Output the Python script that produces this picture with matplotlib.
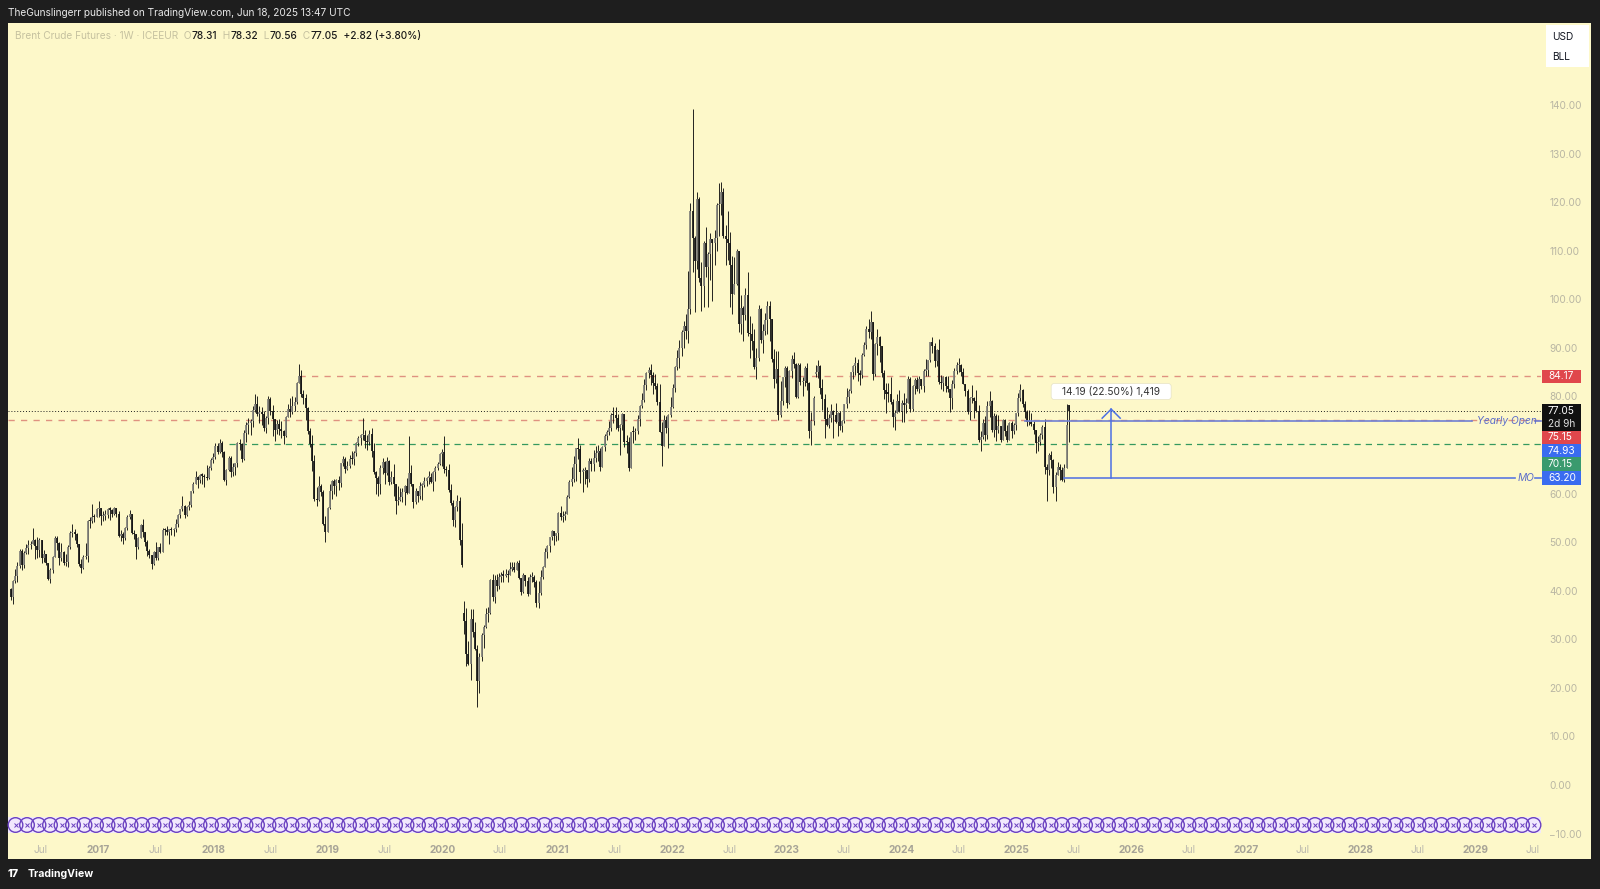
import numpy as np
import pandas as pd
import matplotlib
matplotlib.use("Agg")
import matplotlib.pyplot as plt
import matplotlib.dates as mdates
from matplotlib.patches import Rectangle, Circle, FancyBboxPatch

plt.rcParams["font.family"] = ["Inter", "DejaVu Sans"]

# --- DATA: Brent weekly candles (week starts on Monday) ---
last_week = "2025-06-16"

closes = [
    # 2016 (from Apr)
    38.67, 41.94, 43.10, 45.11, 48.13, 45.37, 47.83, 48.72, 49.32, 49.64, 50.54, 49.17, 48.41, 50.35, 46.76, 47.61,
    45.69, 42.46, 44.27, 46.97, 50.88, 49.92, 46.83, 48.01, 45.77, 45.89, 49.06, 51.93, 51.95, 51.78, 49.71, 45.58,
    44.75, 46.86, 47.24, 54.46, 54.33, 55.21, 55.16, 56.82,
    # 2017
    57.10, 55.45, 55.49, 55.52, 56.81, 56.70, 55.81, 56.99, 55.90, 51.37, 51.76, 50.80, 52.83, 55.24, 55.89, 51.96,
    51.73, 49.10, 50.84, 53.61, 52.15, 49.95, 48.15, 47.37, 45.54, 47.92, 46.71, 48.91, 48.06, 52.52, 52.42, 52.10,
    52.72, 52.41, 52.75, 53.78, 55.62, 56.86, 57.54, 55.62, 57.17, 57.75, 60.44, 62.07, 63.52, 62.72, 63.86, 63.73,
    63.40, 63.23, 65.25, 66.87,
    # 2018
    67.62, 69.87, 68.61, 70.52, 68.58, 62.79, 64.84, 67.31, 64.37, 65.49, 66.21, 70.45, 70.27, 67.11, 72.58, 74.06,
    74.64, 74.87, 77.12, 78.51, 76.44, 76.79, 76.46, 73.44, 75.55, 79.44, 77.11, 75.33, 73.07, 74.29, 73.21, 72.81,
    71.83, 75.82, 77.42, 76.83, 78.09, 78.80, 82.72, 84.16, 80.43, 79.78, 77.62, 72.83, 70.18, 66.76, 58.80, 58.71,
    61.67, 60.28, 53.82, 52.20,
    # 2019
    57.06, 60.48, 62.70, 61.64, 62.75, 62.10, 66.25, 67.12, 65.07, 65.74, 67.16, 67.03, 68.39, 70.34, 71.55, 71.97,
    72.15, 70.85, 70.62, 72.21, 68.69, 64.49, 63.29, 62.01, 65.20, 66.55, 64.23, 66.72, 62.47, 63.46, 61.89, 58.53,
    58.64, 59.34, 60.43, 61.54, 60.22, 64.28, 61.91, 58.37, 60.51, 59.42, 61.67, 61.69, 62.51, 63.30, 63.39, 62.43,
    64.39, 65.22, 66.14, 68.16,
    # 2020
    68.60, 64.98, 64.85, 60.69, 58.16, 54.47, 57.32, 58.50, 50.52, 45.27, 33.85, 26.98, 24.93, 34.11, 31.48, 28.08,
    21.44, 26.44, 30.97, 32.50, 35.13, 35.33, 42.30, 38.73, 42.19, 41.02, 42.80, 43.24, 43.14, 43.34, 43.30, 44.40,
    44.80, 44.35, 45.81, 42.66, 39.83, 43.15, 41.92, 39.27, 42.85, 42.93, 41.77, 37.46, 39.45, 42.78, 44.96, 47.88,
    49.25, 50.97, 52.26, 51.29, 51.80,
    # 2021
    55.99, 55.10, 55.41, 55.88, 59.34, 62.43, 62.91, 66.13, 69.36, 69.22, 64.53, 64.57, 64.86, 62.95, 66.77, 66.11,
    67.25, 68.28, 68.71, 65.44, 69.63, 71.89, 72.69, 73.51, 76.18, 76.17, 75.55, 73.59, 74.10, 76.33, 70.70, 70.59,
    65.18, 72.70, 72.61, 72.92, 75.34, 78.09, 79.28, 82.39, 84.86, 85.53, 84.38, 82.74, 82.17, 78.89, 72.72, 69.88,
    75.15, 73.52, 76.14, 77.78,
    # 2022
    81.75, 86.06, 87.89, 90.03, 93.27, 94.44, 93.54, 97.93, 118.11, 112.67, 107.93, 120.65, 104.39, 102.78, 111.70,
    106.65, 109.34, 112.39, 111.55, 112.55, 119.43, 119.72, 122.01, 113.12, 112.50, 111.63, 107.02, 101.16, 103.20,
    110.01, 94.92, 98.15, 96.72, 100.99, 93.02, 92.84, 91.35, 86.15, 87.96, 97.92, 91.63, 93.50, 95.77, 98.57, 95.99,
    87.62, 83.63, 85.57, 76.10, 79.04, 83.92, 85.91,
    # 2023
    78.57, 85.28, 87.63, 86.66, 79.94, 86.39, 83.00, 83.16, 85.83, 82.78, 72.97, 74.99, 79.77, 85.12, 86.31, 81.66,
    79.54, 75.30, 74.17, 75.58, 76.95, 76.13, 74.79, 76.61, 73.85, 74.90, 78.47, 79.87, 81.07, 84.99, 86.24, 86.81,
    84.80, 84.48, 88.55, 90.65, 93.93, 93.27, 95.31, 84.58, 90.89, 92.16, 90.48, 84.89, 81.43, 80.61, 80.58, 78.88,
    75.84, 76.55, 79.07, 77.04,
    # 2024
    78.76, 78.29, 78.56, 83.55, 77.33, 82.19, 83.47, 81.62, 83.55, 82.08, 85.34, 85.43, 87.48, 91.17, 90.45, 87.29,
    89.50, 82.96, 82.79, 83.98, 82.12, 81.62, 79.62, 82.62, 85.24, 86.41, 86.54, 85.03, 82.63, 81.13, 76.81, 79.66,
    79.68, 79.02, 76.93, 71.06, 71.61, 74.49, 71.98, 78.05, 79.04, 73.06, 76.05, 73.10, 73.87, 71.04, 75.17, 72.94,
    71.12, 74.49, 72.94, 74.17,
    # 2025
    76.51, 79.76, 81.29, 78.50, 76.76, 74.66, 74.74, 74.43, 73.18, 70.36, 70.58, 72.16, 73.63, 65.58, 64.76, 67.96,
    66.87, 61.29, 63.91, 65.41, 64.78, 62.78, 65.34, 74.23, 77.05,
]

highs = [
    # 2016
    40.6, 42.2, 44.5, 45.9, 48.5, 48.6, 48.1, 49.6, 50.5, 50.3, 52.9, 50.6, 51.1, 50.8, 50.5, 48.4,
    47.6, 45.6, 44.6, 47.2, 51.2, 51.2, 50.0, 49.9, 48.2, 47.6, 49.4, 52.4, 53.7, 52.8, 51.8, 49.4,
    46.6, 47.4, 49.9, 54.5, 55.2, 57.9, 55.8, 57.0,
    # 2017
    58.4, 57.1, 56.4, 56.6, 57.0, 57.2, 56.9, 57.3, 57.0, 56.4, 52.5, 52.2, 53.2, 55.6, 56.6, 55.9,
    52.6, 51.7, 51.1, 53.8, 54.7, 52.2, 50.4, 48.7, 47.4, 48.1, 50.1, 49.0, 49.9, 52.9, 53.0, 53.3,
    52.8, 53.1, 52.9, 54.8, 55.9, 56.9, 59.5, 57.6, 57.5, 58.5, 60.5, 62.3, 64.7, 63.7, 64.0, 64.2,
    64.0, 65.8, 65.6, 67.3,
    # 2018
    68.3, 70.4, 70.4, 71.3, 70.8, 68.8, 65.1, 67.7, 67.8, 66.3, 66.4, 70.6, 71.3, 70.4, 73.1, 74.7,
    75.5, 75.3, 78.0, 80.5, 80.2, 78.0, 77.8, 77.0, 75.9, 80.0, 79.8, 78.3, 73.9, 75.1, 75.3, 74.9,
    73.2, 75.9, 78.5, 79.7, 80.1, 79.9, 82.9, 86.7, 85.5, 81.4, 80.5, 77.9, 73.5, 72.1, 67.9, 61.3,
    63.7, 62.0, 60.8, 55.4,
    # 2019
    57.3, 61.9, 62.9, 63.0, 63.0, 63.6, 66.4, 67.7, 67.5, 66.7, 68.0, 68.7, 68.7, 70.6, 71.9, 72.3,
    75.6, 73.2, 72.0, 73.0, 73.5, 70.4, 64.6, 63.6, 65.9, 67.4, 66.7, 67.5, 67.0, 64.6, 66.0, 62.0,
    61.5, 61.1, 61.2, 61.8, 63.3, 71.9, 65.9, 61.0, 61.2, 60.5, 62.4, 62.1, 63.5, 63.4, 64.7, 64.3,
    64.6, 65.6, 66.6, 68.3,
    # 2020
    69.2, 71.8, 65.7, 66.0, 61.9, 58.6, 57.5, 59.8, 59.4, 53.9, 37.9, 36.5, 29.6, 36.3, 36.2, 33.6,
    28.8, 27.2, 31.4, 32.9, 36.4, 36.6, 42.5, 43.4, 43.2, 43.4, 43.6, 43.8, 44.2, 44.5, 44.2, 46.0,
    45.9, 45.9, 46.2, 46.3, 42.6, 43.6, 43.0, 42.9, 43.5, 43.8, 43.2, 42.3, 42.0, 44.2, 45.2, 48.9,
    49.4, 51.1, 52.5, 52.1, 51.9,
    # 2021
    56.3, 57.4, 56.5, 56.5, 59.8, 62.8, 65.5, 67.7, 69.4, 71.4, 70.1, 65.2, 65.5, 64.8, 67.4, 67.3,
    69.0, 69.8, 70.0, 69.3, 69.8, 72.3, 73.0, 74.9, 76.6, 77.8, 77.8, 76.4, 74.3, 76.6, 75.8, 72.0,
    71.7, 72.7, 73.9, 73.6, 76.2, 78.2, 80.8, 83.5, 85.1, 86.1, 86.7, 85.0, 84.6, 82.7, 82.6, 74.8,
    76.2, 76.0, 76.4, 79.8,
    # 2022
    82.5, 86.3, 89.5, 91.7, 93.7, 95.6, 97.0, 105.8, 119.8, 139.1, 113.0, 122.0, 121.0, 107.6, 112.0,
    114.8, 109.8, 113.7, 112.0, 114.3, 119.9, 124.0, 124.2, 122.9, 115.4, 118.2, 113.9, 108.9, 108.7,
    110.4, 106.0, 100.8, 98.6, 102.4, 105.6, 96.6, 95.1, 93.9, 90.0, 98.8, 98.3, 95.0, 97.2, 99.6, 99.6,
    96.0, 89.8, 89.4, 89.4, 83.1, 84.1, 86.3,
    # 2023
    86.3, 85.5, 88.5, 89.1, 86.9, 86.9, 86.9, 84.1, 86.2, 86.8, 82.9, 76.9, 80.0, 86.4, 87.5, 86.4,
    83.5, 80.6, 77.9, 76.4, 78.4, 77.3, 78.7, 76.9, 77.0, 75.1, 78.5, 81.7, 81.6, 85.1, 86.4, 88.1,
    87.8, 85.5, 89.0, 91.2, 94.5, 95.9, 97.7, 92.8, 91.0, 93.8, 92.5, 90.2, 85.4, 82.8, 82.7, 84.0,
    79.5, 77.2, 80.6, 81.4,
    # 2024
    79.3, 80.8, 79.7, 84.3, 84.0, 82.3, 83.9, 84.0, 84.2, 83.6, 85.6, 87.7, 87.6, 91.3, 92.2, 91.0,
    89.7, 91.9, 84.4, 84.2, 84.2, 84.3, 81.6, 83.4, 85.8, 87.0, 87.9, 86.7, 85.9, 82.6, 81.5, 79.9,
    82.3, 79.9, 81.4, 78.2, 72.9, 75.4, 75.9, 79.0, 81.2, 79.3, 76.6, 76.3, 76.2, 74.0, 75.3, 75.4,
    74.1, 74.7, 74.9, 74.5,
    # 2025
    76.7, 80.8, 82.6, 81.5, 79.1, 77.2, 77.2, 76.6, 75.0, 73.2, 71.8, 72.5, 74.1, 75.3, 66.1, 68.3,
    68.7, 67.2, 64.4, 66.6, 66.1, 65.4, 66.1, 78.5, 78.32,
]

lows = [
    # 2016
    38.1, 37.3, 41.5, 41.9, 44.6, 44.2, 44.6, 47.5, 47.6, 48.6, 49.7, 46.6, 46.8, 46.9, 45.8, 45.9,
    45.4, 42.2, 41.5, 43.7, 46.9, 48.4, 45.3, 46.1, 45.4, 45.2, 44.9, 48.7, 51.0, 50.5, 49.0, 45.2,
    43.6, 44.4, 46.6, 45.9, 53.0, 53.9, 54.2, 55.3,
    # 2017
    55.2, 53.6, 54.3, 54.6, 54.9, 54.6, 55.1, 55.7, 55.1, 51.0, 50.3, 49.7, 50.4, 52.6, 54.7, 51.6,
    50.6, 46.6, 48.5, 50.8, 51.0, 49.2, 47.2, 46.7, 44.4, 45.4, 46.4, 46.4, 47.8, 47.9, 51.4, 51.4,
    49.7, 51.5, 51.3, 52.2, 53.2, 55.0, 56.4, 55.0, 55.4, 56.7, 57.2, 60.1, 61.9, 61.1, 62.1, 61.9,
    61.3, 62.9, 63.0, 64.8,
    # 2018
    66.3, 67.2, 68.2, 68.4, 67.5, 62.5, 61.8, 64.6, 63.5, 63.6, 63.8, 65.5, 68.9, 66.6, 66.9, 70.7,
    72.2, 72.1, 73.8, 76.9, 76.0, 74.6, 74.1, 72.8, 72.4, 74.3, 76.1, 71.8, 70.8, 72.2, 72.0, 71.4,
    70.3, 71.6, 75.7, 75.8, 76.3, 77.1, 78.5, 83.6, 79.9, 78.4, 75.1, 72.2, 69.6, 64.6, 58.4, 57.5,
    58.4, 59.5, 53.5, 50.0,
    # 2019
    52.3, 56.9, 58.8, 60.0, 59.6, 60.8, 61.4, 65.6, 64.2, 64.8, 65.2, 66.1, 65.9, 67.8, 69.8, 70.1,
    71.1, 69.4, 68.9, 70.0, 67.5, 64.0, 60.0, 59.5, 60.0, 64.1, 61.9, 63.8, 61.7, 62.0, 59.6, 55.9,
    57.6, 58.5, 58.2, 57.7, 59.9, 63.6, 61.6, 57.1, 57.8, 58.3, 58.9, 58.7, 61.4, 61.6, 62.0, 62.2,
    60.5, 62.6, 64.8, 65.9,
    # 2020
    65.6, 64.3, 63.6, 60.4, 57.6, 53.4, 53.1, 56.4, 49.5, 44.9, 31.0, 24.5, 24.7, 21.7, 30.4, 27.8,
    16.0, 19.0, 25.5, 28.2, 32.3, 33.6, 35.2, 37.9, 37.4, 40.0, 40.3, 41.7, 41.9, 42.9, 41.8, 43.2,
    44.1, 43.9, 44.7, 42.4, 39.2, 39.6, 41.0, 38.9, 39.5, 41.9, 40.7, 36.6, 36.4, 39.2, 42.4, 44.9,
    46.8, 48.0, 50.5, 49.5, 50.3,
    # 2021
    50.4, 54.6, 54.1, 54.5, 55.8, 59.2, 61.5, 62.3, 62.5, 67.2, 62.2, 60.3, 61.9, 61.3, 62.4, 64.6,
    64.6, 66.5, 66.7, 64.7, 65.4, 68.7, 71.0, 72.0, 72.9, 74.5, 73.4, 72.8, 68.0, 73.1, 69.7, 68.3,
    64.6, 65.2, 70.4, 71.0, 72.3, 73.9, 77.7, 78.9, 81.4, 83.8, 82.4, 80.6, 81.5, 78.3, 72.6, 65.7,
    70.0, 72.4, 69.3, 75.8,
    # 2022
    77.7, 80.9, 85.4, 85.8, 88.4, 89.9, 91.8, 91.0, 97.0, 105.6, 97.4, 106.3, 103.6, 97.6, 98.5,
    104.6, 98.5, 104.0, 99.7, 107.0, 109.9, 113.0, 117.3, 112.6, 107.0, 108.0, 98.5, 96.9, 101.3,
    103.0, 93.2, 92.8, 91.5, 95.8, 92.4, 88.0, 89.5, 85.6, 83.6, 87.4, 91.1, 89.0, 92.6, 92.8, 91.4,
    87.1, 81.8, 82.8, 75.1, 75.8, 78.2, 82.0,
    # 2023
    77.6, 78.5, 83.8, 85.9, 79.7, 79.7, 82.3, 80.1, 82.1, 81.3, 71.4, 70.1, 74.2, 84.1, 83.8, 80.6,
    77.3, 71.4, 73.9, 73.5, 74.8, 71.4, 74.6, 71.8, 73.0, 72.6, 74.5, 77.7, 78.6, 80.7, 83.6, 84.4,
    83.2, 82.3, 83.8, 88.3, 89.8, 92.0, 91.9, 83.4, 84.2, 88.6, 87.0, 84.1, 79.4, 76.6, 78.8, 78.4,
    73.8, 73.2, 76.8, 76.9,
    # 2024
    74.8, 74.8, 76.6, 78.6, 76.9, 77.0, 80.6, 81.1, 80.7, 81.5, 81.0, 84.2, 84.3, 87.0, 88.9, 86.1,
    86.3, 82.6, 81.6, 81.1, 80.9, 81.0, 76.8, 77.5, 81.8, 84.7, 85.0, 84.2, 82.5, 80.0, 76.3, 75.1,
    78.6, 75.6, 76.8, 70.7, 68.7, 71.2, 70.9, 71.2, 75.8, 72.7, 71.6, 70.9, 72.5, 70.7, 71.3, 71.8,
    70.7, 71.2, 71.4, 72.3,
    # 2025
    73.2, 75.9, 79.1, 77.9, 75.6, 74.0, 74.1, 74.0, 72.2, 68.3, 68.8, 70.0, 71.3, 64.0, 58.4, 63.8,
    65.3, 60.2, 58.4, 63.8, 62.9, 62.5, 62.3, 65.8, 70.56,
]

# weeks whose open gapped away from the prior close
gap_opens = {"2016-03-28": 40.4, "2020-03-09": 35.5, "2023-04-03": 84.6, "2025-06-16": 78.31}

# horizontal levels drawn on the chart
upper_red = 84.17
upper_red_from = "2018-10-01"
lower_red = 75.15
green_level = 70.15
green_from = "2018-02-19"
yearly_open = 74.93
yearly_from = "2025-01-27"
month_open = 63.20
month_from = "2025-06-02"
last_price = 77.05
countdown = "2d 9h"

# price range measurement
measure_date = "2025-10-29"
measure_low = 63.20
measure_high = 77.39
measure_text = "14.19 (22.50%) 1,419"

header = "TheGunslingerr published on TradingView.com, Jun 18, 2025 13:47 UTC"
symbol = "Brent Crude Futures · 1W · ICEEUR"
ohlc = [("O", "78.31"), ("H", "78.32"), ("L", "70.56"), ("C", "77.05")]
change = "+2.82 (+3.80%)"
y_ticks = list(range(-10, 150, 10))
hidden_ticks = [70]  # covered by the price tags
tick_years = list(range(2016, 2030))

# --- COLOURS ---
DARK = "#1e1e1e"
CREAM = "#fdf8c9"
UP = "#80807a"
DOWN = "#141414"
SALMON = "#df9280"
GREEN = "#35995f"
LINE_BLUE = "#6f7fd3"
ARROW_BLUE = "#4c70e4"
RED_TAG = "#e0474c"
BLUE_TAG = "#3a6cf0"
GREEN_TAG = "#3a9a6e"
FS = 7.3

W, H = 1600, 889
fig = plt.figure(figsize=(W / 100, H / 100), dpi=100)
fig.patch.set_facecolor(DARK)


def frac(x0, y0, x1, y1):
    # pixel box (top-left origin) -> figure fraction rect
    return [x0 / W, 1 - y1 / H, (x1 - x0) / W, (y1 - y0) / H]


bg = fig.add_axes(frac(8, 22.5, 1591, 858.5))
bg.set_facecolor(CREAM)
bg.set_xticks([])
bg.set_yticks([])
for s in bg.spines.values():
    s.set_visible(False)

ax = fig.add_axes(frac(8, 22.5, 1541, 837))
ax.patch.set_alpha(0)
for s in ax.spines.values():
    s.set_visible(False)

# --- CANDLES ---
dates = pd.date_range(end=last_week, periods=len(closes), freq="7D")
c = np.array(closes)
o = np.r_[c[0], c[:-1]]
for d, v in gap_opens.items():
    o[dates.get_loc(pd.Timestamp(d))] = v
hi = np.maximum(np.array(highs), np.maximum(o, c))
lo = np.minimum(np.array(lows), np.minimum(o, c))
x = mdates.date2num(dates)
up = c >= o
b_lo = np.minimum(o, c)
b_hi = np.maximum(np.maximum(o, c), b_lo + 0.25)

ax.vlines(x, lo, hi, color=DOWN, lw=0.65, zorder=3)
ax.vlines(x[up], b_lo[up], b_hi[up], color=UP, lw=1.25, zorder=4)
ax.vlines(x[~up], b_lo[~up], b_hi[~up], color=DOWN, lw=1.25, zorder=4)

x_left = mdates.date2num(pd.Timestamp("2016-03-19"))
x_right = mdates.date2num(pd.Timestamp("2029-07-28"))
ax.set_xlim(x_left, x_right)
ax.set_ylim(-10.7, 157.0)


# --- LEVELS ---
def dnum(s):
    return mdates.date2num(pd.Timestamp(s))


dash = (0, (4.5, 4.5))
ax.plot([x_left, x_right], [last_price] * 2, color="#222222", lw=0.7, ls=(0, (1, 2)), zorder=2)
ax.plot([x_left, x_right], [lower_red] * 2, color=SALMON, lw=1.0, ls=dash, zorder=2)
ax.plot([dnum(upper_red_from), x_right], [upper_red] * 2, color=SALMON, lw=1.0, ls=dash, zorder=2)
ax.plot([dnum(green_from), x_right], [green_level] * 2, color=GREEN, lw=0.9, ls=(0, (5, 4)), zorder=2)

# --- AXES TICKS ---
ax.yaxis.tick_right()
ax.set_yticks(y_ticks)
ax.set_yticklabels(["" if v in hidden_ticks else f"{v:.2f}".replace("-", "\u2212") for v in y_ticks])
ax.tick_params(axis="y", length=0, pad=6, labelsize=FS, labelcolor="#b9b6a3")

xt, xl = [], []
for yr in tick_years:
    for m, lab in [(1, str(yr)), (7, "Jul")]:
        v = dnum(f"{yr}-{m:02d}-01")
        if x_left < v < x_right:
            xt.append(v)
            xl.append(lab)
ax.set_xticks(xt)
ax.set_xticklabels(xl)
ax.tick_params(axis="x", length=0, pad=6, labelsize=FS)
for t in ax.get_xticklabels():
    if t.get_text() == "Jul":
        t.set_color("#bdbaae")
    else:
        t.set_color("#a7a497")
        t.set_fontweight("bold")

# --- OVERLAY IN PIXELS ---
ov = fig.add_axes([0, 0, 1, 1])
ov.set_xlim(0, W)
ov.set_ylim(H, 0)
ov.axis("off")
ov.patch.set_alpha(0)


def px(xv, yv):
    d = ax.transData.transform((xv, yv))
    return ov.transData.inverted().transform(d)


# pattern strip along the bottom
ov.add_patch(Rectangle((8, 817), 1533, 16, fc="#f1e8fd", ec="none", zorder=5))
ring_x = np.arange(15.5, 1535, 11.5)
for cx in ring_x:
    ov.add_patch(Circle((cx, 825), 7.3, fc="none", ec="#6a40c0", lw=1.0, zorder=6))
ov.plot(ring_x, np.full(len(ring_x), 825.0), ls="none", marker="x", ms=3.2, mew=0.7,
        color="#6a40c0", zorder=6)

# yearly open and monthly open rays with labels
x0, yy = px(dnum(yearly_from), yearly_open)
ov.plot([x0, 1472], [yy, yy], color=LINE_BLUE, lw=1.2, zorder=6)
ov.plot([1535, 1541], [yy, yy], color=LINE_BLUE, lw=1.2, zorder=6)
ov.text(1477, yy, "Yearly Open", color="#5b6cc9", fontsize=FS, style="italic", va="center", ha="left", zorder=6)

x0, ym = px(dnum(month_from), month_open)
ov.plot([x0, 1515], [ym, ym], color="#5a78e0", lw=1.2, zorder=6)
ov.plot([1535, 1541], [ym, ym], color="#5a78e0", lw=1.2, zorder=6)
ov.text(1518, ym, "MO", color="#5b6cc9", fontsize=FS, style="italic", va="center", ha="left", zorder=6)

# price range arrow
xa, ya0 = px(dnum(measure_date), measure_low)
_, ya1 = px(dnum(measure_date), measure_high)
ov.plot([xa, xa], [ya0, ya1], color=ARROW_BLUE, lw=1.1, zorder=7)
ov.plot([xa - 9, xa, xa + 9], [ya1 + 9, ya1, ya1 + 9], color=ARROW_BLUE, lw=1.1, zorder=7)
ov.add_patch(FancyBboxPatch((xa - 60, 383.5), 120, 16, boxstyle="round,pad=0,rounding_size=3",
                            fc="white", ec="#e6e2c4", lw=0.5, zorder=8))
ov.text(xa, 391.5, measure_text, color="#333333", fontsize=FS, ha="center", va="center", zorder=9)

# stacked price tags on the scale
tags = [
    (upper_red, RED_TAG, ["84.17"]),
    (last_price, "#111111", ["77.05", countdown]),
    (lower_red, RED_TAG, ["75.15"]),
    (yearly_open, BLUE_TAG, ["74.93"]),
    (green_level, GREEN_TAG, ["70.15"]),
    (month_open, BLUE_TAG, ["63.20"]),
]
th = 13.3
prev = -1e9
for price, col, rows in tags:
    yc = px(x_right, price)[1]
    top = max(yc - th / 2, prev)
    ov.add_patch(Rectangle((1541.5, top), 39, th * len(rows), fc=col, ec="none", zorder=8))
    for i, s in enumerate(rows):
        ov.text(1548, top + th * (i + 0.5), s, color="white" if i == 0 else "#dddddd",
                fontsize=FS, ha="left", va="center", zorder=9)
    prev = top + th * len(rows)

# currency / unit box
ov.add_patch(Rectangle((1546, 25), 43, 42, fc="white", ec="none", zorder=8))
ov.text(1552, 36.5, "USD", color="#131722", fontsize=FS, ha="left", va="center", zorder=9)
ov.text(1552, 57, "BLL", color="#131722", fontsize=FS, ha="left", va="center", zorder=9)

# header and footer
ov.text(8.5, 12.5, header, color="#e8e8e8", fontsize=FS, ha="left", va="center")
ov.text(8, 874, "17", color="white", fontsize=FS + 0.5, fontweight="heavy", ha="left", va="center")
ov.text(28, 874, "TradingView", color="white", fontsize=FS + 0.3, fontweight="bold", ha="left", va="center")

# legend row
r = fig.canvas.get_renderer()
lx = 15
pieces = [(symbol, "#c6c2a0", "normal")]
for k, v in ohlc:
    pieces += [("  " + k, "#c6c2a0", "normal"), (v, "#1c1c1c", "medium")]
pieces.append(("  " + change, "#1c1c1c", "medium"))
for s, col, wt in pieces:
    t = ov.text(lx, 36, s, color=col, fontsize=FS, fontweight=wt, ha="left", va="center", zorder=9)
    lx += t.get_window_extent(renderer=r).width

fig.savefig("out.png", dpi=100, facecolor=fig.get_facecolor())
